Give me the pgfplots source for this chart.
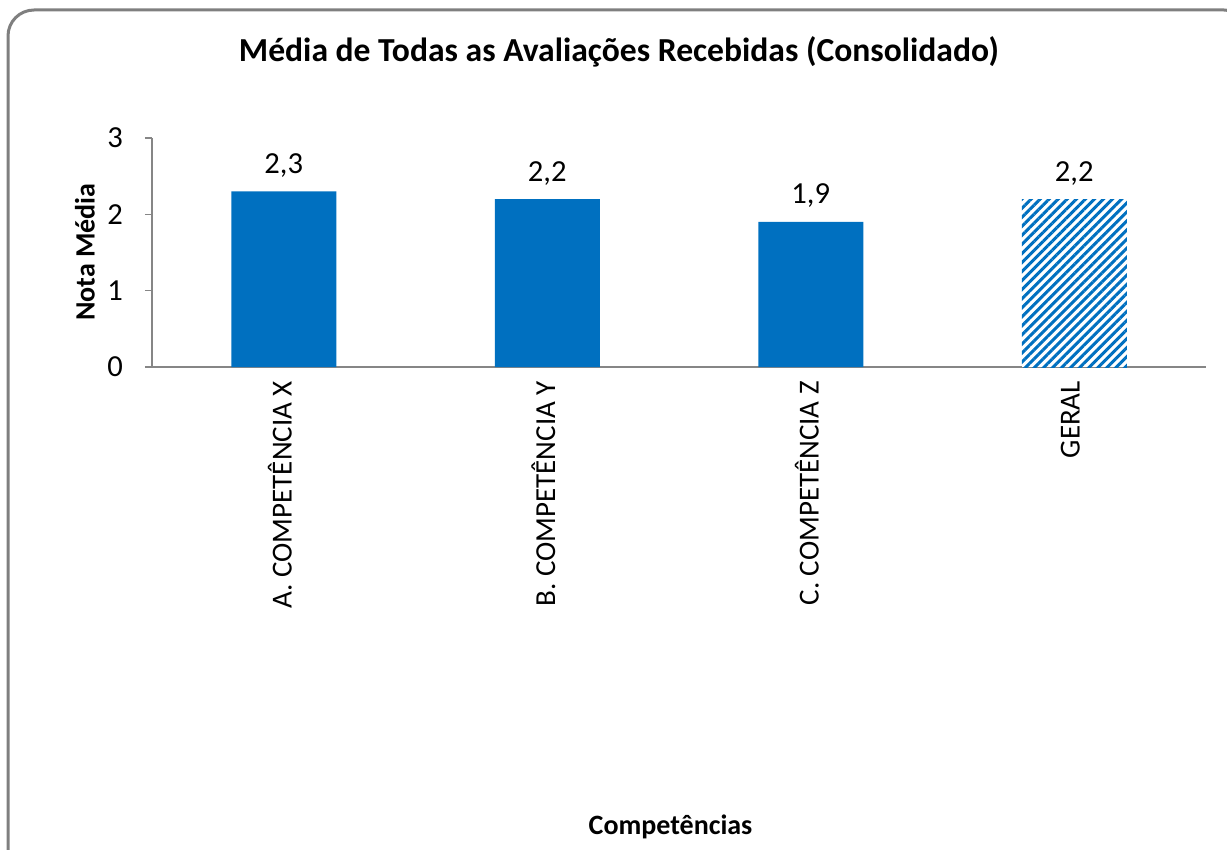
\documentclass[border=0pt]{standalone}
\usepackage{pgfplots}
\pgfplotsset{compat=1.18}
\usetikzlibrary{patterns.meta}
\usepackage{fontspec}
\setmainfont{Carlito}
\definecolor{barblue}{HTML}{0070C0}
\definecolor{axgray}{HTML}{868686}
\definecolor{framegray}{HTML}{7F7F7F}
\begin{document}
\begin{tikzpicture}
\useasboundingbox (0,0) rectangle (613.5pt,-425pt);
\draw[line width=1.5pt, framegray, rounded corners=13pt] (4pt,-5pt) rectangle (625pt,-440pt);
\begin{axis}[
  at={(76pt,-183.5pt)}, anchor=south west,
  scale only axis, width=527pt, height=114.5pt,
  xmin=-0.5, xmax=3.5, ymin=0, ymax=3,
  axis x line*=bottom, axis y line*=left,
  axis line style={axgray, line width=0.8pt},
  ybar, bar width=52.5pt, bar shift=0pt,
  xtick={0,1,2,3},
  xticklabels={A. COMPETÊNCIA X, B. COMPETÊNCIA Y, C. COMPETÊNCIA Z, GERAL},
  xtick style={draw=none},
  minor xtick={-0.5,0.5,1.5,2.5,3.5},
  minor tick length=4pt,
  minor tick style={axgray, line width=0.8pt},
  ytick={0,1,2,3},
  ytick style={axgray, line width=0.8pt},
  major tick length=3.5pt,
  tick align=outside,
  tick label style={font=\fontsize{15.3}{17}\selectfont},
  /pgf/number format/assume math mode=true,
  yticklabel style={xshift=-7.5pt},
  xticklabel style={rotate=90, anchor=east, yshift=2pt, font=\fontsize{14.5}{17}\selectfont},
  title={Média de Todas as Avaliações Recebidas (Consolidado)},
  title style={font=\bfseries\fontsize{16.8}{19}\selectfont, at={(axis description cs:0.443,1.322)}, anchor=center, yshift=0pt},
  xlabel={Competências},
  xlabel style={font=\bfseries\fontsize{14}{16}\selectfont, at={(axis description cs:0.492,-2.009)}, anchor=center},
  ylabel={Nota Média},
  ylabel style={font=\bfseries\fontsize{14}{16}\selectfont, at={(axis description cs:-0.0636,0.502)}, anchor=center, rotate=0},
  nodes near coords,
  nodes near coords style={font=\fontsize{15.3}{17}\selectfont, anchor=center, yshift=13pt,
    /pgf/number format/.cd, fixed, fixed zerofill, precision=1, use comma, assume math mode=true},
  clip=false,
]
\addplot[fill=barblue, draw=none] coordinates {(0,2.3) (1,2.2) (2,1.9)};
\addplot[fill=white, draw=none, pattern color=barblue,
  postaction={pattern={Lines[angle=45,distance=3.2pt,line width=1.5pt]}, pattern color=barblue}]
  coordinates {(3,2.2)};
\end{axis}
\end{tikzpicture}
\end{document}
